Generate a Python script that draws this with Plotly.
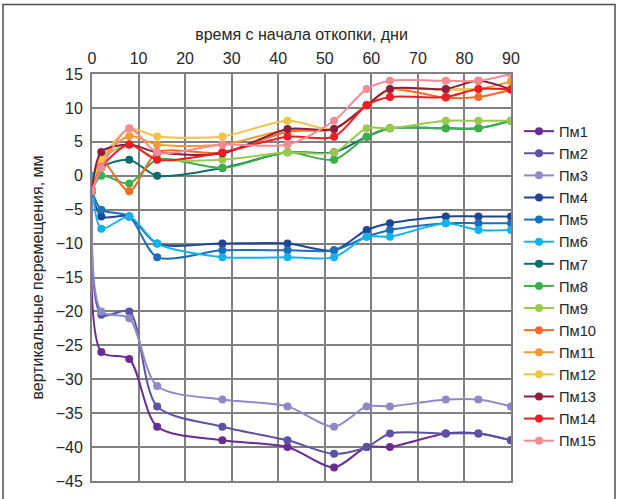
import plotly.graph_objects as go

# Days since the start of excavation (measurement dates)
days = [0, 2, 8, 14, 28, 42, 52, 59, 64, 76, 83, 90]

# Vertical displacement of each benchmark, mm
pm1 = [-2.2, -26, -27, -37, -39, -40, -43, -40, -40, -38, -38, -39]
pm2 = [-2.2, -20.5, -20, -34, -37, -39, -41, -40, -38, -38, -38, -39]
pm3 = [-2.2, -20, -21, -31, -33, -34, -37, -34, -34, -33, -33, -34]
pm4 = [-2.2, -6, -6, -10, -10, -10, -11, -8, -7, -6, -6, -6]
pm5 = [-2.2, -5, -6, -12, -11, -11, -11, -9, -8, -7, -7, -7]
pm6 = [0, -7.8, -6, -10, -12, -12, -12, -9, -9, -7, -8, -8]
pm7 = [-2.2, 1.2, 2.35, 0, 1.15, 3.45, 3.45, 5.75, 7.0, 7.0, 7.0, 8.1]
pm8 = [-2.2, 0, -1.15, 2.4, 1.15, 3.45, 2.35, 5.75, 7.0, 7.0, 7.0, 8.1]
pm9 = [-2.2, 2.3, 4.6, 2.5, 2.35, 3.45, 3.45, 7.0, 7.0, 8.1, 8.1, 8.1]
pm10 = [-2.2, 2.3, -2.3, 3.4, 3.4, 6.5, 6.9, 10.4, 12.7, 11.5, 11.6, 12.7]
pm11 = [-2.2, 2.35, 5.85, 4.6, 4.6, 6.8, 6.9, 10.4, 12.7, 12.7, 12.8, 13.9]
pm12 = [-2.2, 2.4, 6.9, 5.8, 5.8, 8.1, 6.9, 10.4, 12.7, 12.7, 12.8, 12.8]
pm13 = [-2.2, 3.5, 4.6, 3.45, 3.3, 6.9, 6.9, 10.4, 12.8, 12.8, 14.0, 12.7]
pm14 = [-2.2, 1.2, 4.6, 2.35, 3.45, 5.75, 5.75, 10.4, 11.6, 11.6, 12.8, 12.7]
pm15 = [-2.2, 1.15, 7.0, 3.45, 4.6, 4.6, 8.1, 12.8, 14.0, 14.0, 14.0, 15.0]

names = ["Пм1", "Пм2", "Пм3", "Пм4", "Пм5", "Пм6", "Пм7", "Пм8",
         "Пм9", "Пм10", "Пм11", "Пм12", "Пм13", "Пм14", "Пм15"]
series = [pm1, pm2, pm3, pm4, pm5, pm6, pm7, pm8,
          pm9, pm10, pm11, pm12, pm13, pm14, pm15]
colors = ["#6A2C91", "#5A52A3", "#8E8AC8", "#1F4594", "#1A6FBA",
          "#12B2EA", "#0C6E6C", "#3BB04A", "#9BC94A", "#F26B28",
          "#F39A32", "#EFC444", "#8E1D3E", "#EE1C25", "#F48A93"]

FONT = "Liberation Sans, Arial, sans-serif"
GRID = "#808080"

fig = go.Figure()
for name, vals, col in zip(names, series, colors):
    fig.add_trace(go.Scatter(
        x=days, y=vals, name=name, mode="lines+markers",
        line=dict(color=col, width=2, shape="spline", smoothing=0.8),
        marker=dict(color=col, size=8),
    ))

# thin frame around the chart area
L, R, W = 92, 511, 419
B, T, H = 490, 74, 416
def px(x):
    return (x - L) / W
def py(y):
    return (B - y) / H

fig.add_shape(
    type="path", xref="paper", yref="paper",
    path=f"M {px(3)},{py(520)} L {px(3)},{py(3)} L {px(615)},{py(3)} L {px(615)},{py(520)}",
    line=dict(color="#4d4d4d", width=1.5),
)

fig.update_layout(
    width=619, height=499,
    margin=dict(l=L, r=619 - R, t=T, b=499 - B),
    paper_bgcolor="white", plot_bgcolor="white",
    font=dict(family=FONT, size=16, color="#262626"),
    showlegend=True,
    legend=dict(
        x=px(519), xanchor="left", y=py(116), yanchor="top",
        font=dict(family=FONT, size=14.7, color="#262626"),
        bgcolor="rgba(0,0,0,0)", itemwidth=30, tracegroupgap=0,
    ),
    xaxis=dict(
        side="top", range=[0, 90], dtick=10, tick0=0,
        showgrid=True, gridcolor=GRID, gridwidth=2,
        showline=True, linecolor=GRID, linewidth=2, mirror=True,
        zeroline=False,
        ticks="outside", ticklen=2, tickcolor="rgba(0,0,0,0)",
        tickfont=dict(size=16),
        title=dict(text="время с начала откопки, дни", font=dict(size=16), standoff=5),
    ),
    yaxis=dict(
        range=[-45, 15], dtick=5, tick0=0,
        showgrid=True, gridcolor=GRID, gridwidth=2,
        showline=True, linecolor=GRID, linewidth=2, mirror=True,
        zeroline=False,
        ticks="outside", ticklen=4, tickcolor="rgba(0,0,0,0)",
        tickfont=dict(size=16),
        title=dict(text="вертикальные перемещения, мм", font=dict(size=16), standoff=8),
    ),
)

fig.write_html("out.html")
